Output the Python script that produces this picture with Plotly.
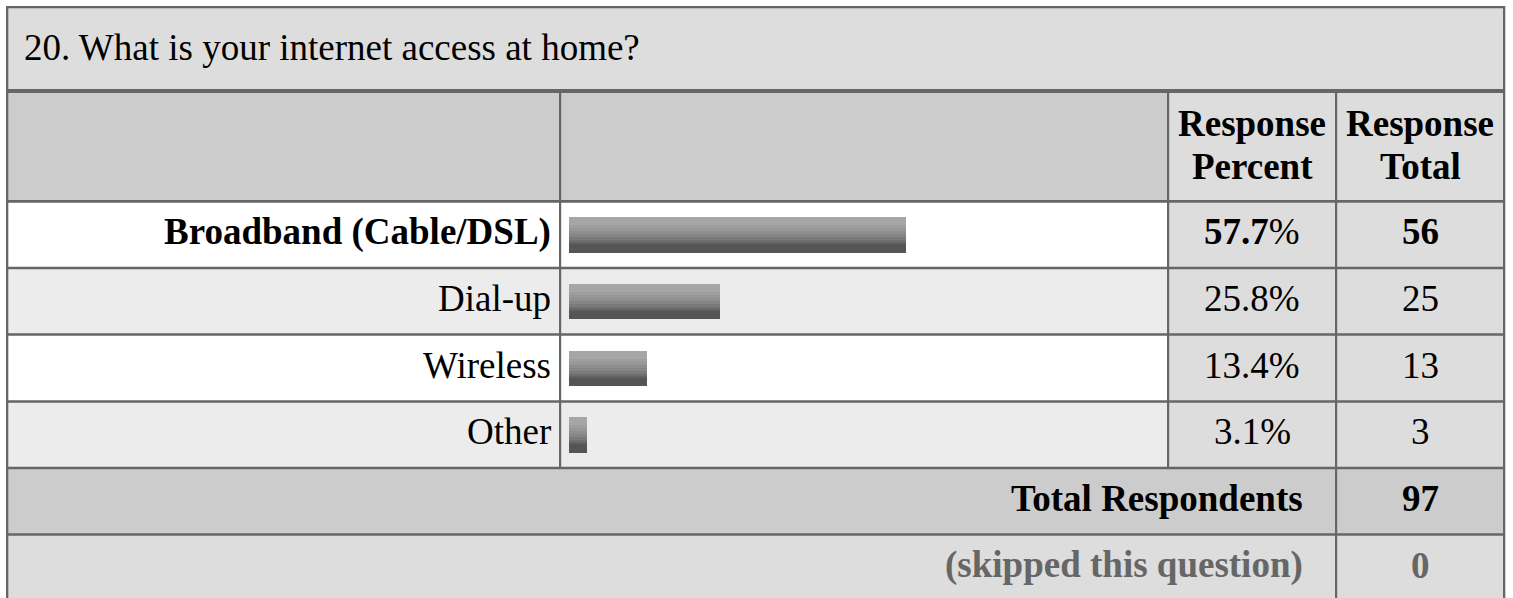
import plotly.graph_objects as go

# ---------------- data ----------------
question = "20. What is your internet access at home?"
categories = ["Broadband (Cable/DSL)", "Dial-up", "Wireless", "Other"]
response_percent = [57.7, 25.8, 13.4, 3.1]
response_total = [56, 25, 13, 3]
header_percent = ["Response", "Percent"]
header_total = ["Response", "Total"]
total_label = "Total Respondents"
total_respondents = 97
skipped_label = "(skipped this question)"
skipped = 0

# ---------------- helpers ----------------
W, H = 1513, 598
FONT = "Liberation Serif, Times New Roman, serif"
FS = 37
BORDER = "#666666"


def px(x):
    return x / W


def py(y):
    return 1 - y / H


shapes = []


def rect(x0, y0, x1, y1, color, layer="below"):
    shapes.append(dict(type="rect", xref="paper", yref="paper",
                       x0=px(x0), x1=px(x1), y0=py(y1), y1=py(y0),
                       fillcolor=color, line=dict(width=0), layer=layer))


annotations = []


def text(x, y, s, anchor="center", color="#000000", size=FS):
    annotations.append(dict(xref="paper", yref="paper", x=px(x), y=py(y),
                            text=s, showarrow=False, xanchor=anchor,
                            yanchor="middle",
                            font=dict(family=FONT, size=size, color=color)))


# geometry of the table (pixels)
row_tops = [202.5, 268.5, 335, 401.5]        # data rows
row_h = 66.6
c_lab, c_bar, c_pct, c_tot, c_end = 8, 560, 1168, 1336, 1504

# ---------------- backgrounds ----------------
rect(7, 7, c_end, 91, "#dddddd")                    # title
rect(7, 91, c_pct, 201, "#cccccc")                  # header left
rect(c_pct, 91, c_end, 201, "#dddddd")              # header right
row_bg = ["#ffffff", "#ececec", "#ffffff", "#ececec"]
for i, top in enumerate(row_tops):
    rect(7, top, c_pct, top + row_h, row_bg[i])
    rect(c_pct, top, c_end, top + row_h, "#dddddd")
rect(7, 468, c_end, 535, "#cccccc")                 # total row
rect(7, 535, c_end, 600, "#dddddd")                 # skipped row

# ---------------- grid lines ----------------
for y0, y1 in [(6, 8.3), (89, 93), (200, 202.8), (266.8, 269.3), (333.3, 335.8),
               (400.2, 402.8), (466.8, 469.3), (533.3, 535.8)]:
    rect(6, y0, c_end + 1, y1, BORDER, layer="above")
rect(6, 6, 8.3, 600, BORDER, layer="above")              # left outer
rect(1503, 6, 1505.3, 600, BORDER, layer="above")        # right outer
rect(559, 91, 561.2, 468, BORDER, layer="above")         # label|bar
rect(1167, 91, 1169.2, 468, BORDER, layer="above")       # bar|percent
rect(1335, 91, 1337.2, 600, BORDER, layer="above")       # percent|total

# ---------------- bars (gradient made of stripes) ----------------
bar_h = 35
stripes = [(8, "#a6a6a6"), (3, "#9e9e9e"), (3, "#979797"), (3, "#8e8e8e"),
           (3, "#858585"), (3, "#7a7a7a"), (2, "#6e6e6e"), (2, "#626262"),
           (8, "#555555")]
fig = go.Figure()
start = 0
for h, col in stripes:
    fig.add_trace(go.Bar(
        x=response_percent, y=categories, orientation="h",
        marker=dict(color=col, line=dict(width=0)),
        offset=(-bar_h / 2 + start) / row_h, width=(h + 0.3) / row_h,
        hoverinfo="skip", showlegend=False))
    start += h

# ---------------- texts ----------------
text(22, 47, question, anchor="left")
text(1252, 124, "<b>%s</b>" % header_percent[0])
text(1252, 167, "<b>%s</b>" % header_percent[1])
text(1420, 124, "<b>%s</b>" % header_total[0])
text(1420, 167, "<b>%s</b>" % header_total[1])
for i, (cat, p, t) in enumerate(zip(categories, response_percent, response_total)):
    yc = 232 + i * row_h
    if i == 0:
        text(553, yc, "<b>%s</b>" % cat, anchor="right")
        text(1252, yc, "<b>%.1f</b>%%" % p)
        text(1420, yc, "<b>%d</b>" % t)
    else:
        text(553, yc, cat, anchor="right")
        text(1252, yc, "%.1f%%" % p)
        text(1420, yc, "%d" % t)
text(1305, 498.5, "<b>%s</b>" % total_label, anchor="right")
text(1420, 498.5, "<b>%d</b>" % total_respondents)
text(1305, 565, "<b>%s</b>" % skipped_label, anchor="right", color="#666666")
text(1420, 565, "<b>%d</b>" % skipped, color="#666666")

fig.update_layout(
    width=W, height=H, margin=dict(l=0, r=0, t=0, b=0),
    paper_bgcolor="#ffffff", plot_bgcolor="rgba(0,0,0,0)",
    barmode="overlay", bargap=0,
    shapes=shapes, annotations=annotations,
    xaxis=dict(domain=[px(569), px(1153)], range=[0, 100], visible=False,
               fixedrange=True),
    yaxis=dict(domain=[py(468), py(201.6)], type="category",
               categoryorder="array", categoryarray=categories,
               range=[3.5, -0.5], visible=False, fixedrange=True),
)

fig.write_html("out.html", config={"displayModeBar": False, "staticPlot": True},
               post_script="document.body.style.margin='0';")
